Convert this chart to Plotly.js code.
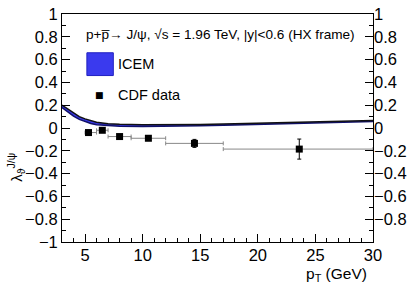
<!DOCTYPE html>
<html><head><meta charset="utf-8">
<script src="https://cdn.plot.ly/plotly-3.0.1.min.js"></script>
<style>html,body{margin:0;padding:0;background:#fff}#c{width:415px;height:284px}</style>
</head><body><div id="c"></div>
<script>
// ICEM band (pT in GeV, lambda_theta)
var icemPt    = [3, 3.5, 4, 4.5, 5, 5.5, 6, 7, 8, 10, 12, 15, 18, 20, 22, 25, 28, 30];
var icemUpper = [0.20, 0.165, 0.13, 0.10, 0.08, 0.062, 0.05, 0.038, 0.032, 0.028, 0.027, 0.030, 0.037, 0.042, 0.047, 0.053, 0.060, 0.066];
var icemLower = [0.18, 0.14, 0.105, 0.076, 0.054, 0.039, 0.029, 0.02, 0.016, 0.014, 0.014, 0.019, 0.027, 0.033, 0.038, 0.045, 0.052, 0.058];
// CDF data
var cdfPt   = [5.3, 6.5, 8.0, 10.5, 14.5, 23.6];
var cdfPtLo = [5, 6, 7, 9, 12, 17];
var cdfPtHi = [6, 7, 9, 12, 17, 30];
var cdfLam  = [-0.04, -0.02, -0.075, -0.09, -0.135, -0.185];
var cdfErr  = [0.018, 0.015, 0.015, 0.02, 0.035, 0.088];
var yTicks = [-1, -0.8, -0.6, -0.4, -0.2, 0, 0.2, 0.4, 0.6, 0.8, 1];
var yTickText = ['\u22121','\u22120.8','\u22120.6','\u22120.4','\u22120.2','0','0.2','0.4','0.6','0.8','1'];
var yTicksRight = [-0.8, -0.6, -0.4, -0.2, 0, 0.2, 0.4, 0.6, 0.8, 1];
var yTickTextRight = ['\u22120.8','\u22120.6','\u22120.4','\u22120.2','0','0.2','0.4','0.6','0.8','1'];

var traces = [
  {x: icemPt, y: icemLower, mode: 'lines', line: {color: '#10106a', width: 1.5}, hoverinfo: 'skip', showlegend: false},
  {x: icemPt, y: icemUpper, mode: 'lines', fill: 'tonexty', fillcolor: 'rgba(35,35,230,0.9)',
   line: {color: '#111', width: 1.5}, hoverinfo: 'skip', showlegend: false},
  {x: cdfPt, y: cdfLam, mode: 'markers', marker: {symbol: 'square', size: 7, color: '#000'},
   error_x: {type: 'data', symmetric: false,
     array: cdfPtHi.map(function(h, i){return h - cdfPt[i];}),
     arrayminus: cdfPtLo.map(function(l, i){return cdfPt[i] - l;}),
     color: '#888', thickness: 1, width: 2},
   error_y: {type: 'data', array: cdfErr, color: '#000', thickness: 1, width: 2},
   showlegend: false},
  {x: [3], y: [0], yaxis: 'y2', mode: 'markers', marker: {opacity: 0}, hoverinfo: 'skip', showlegend: false}
];

var font = {family: 'Liberation Sans, Arial, sans-serif', color: '#000'};
var layout = {
  width: 415, height: 284,
  margin: {l: 62, r: 42, t: 14, b: 42},
  paper_bgcolor: '#fff', plot_bgcolor: '#fff',
  font: {family: font.family, size: 16.5, color: '#000'},
  showlegend: false,
  xaxis: {range: [3, 30], showgrid: false, zeroline: false, showline: true, linecolor: '#000', linewidth: 1,
    mirror: true, ticks: 'inside', ticklen: 8, tickcolor: '#000', tickvals: [5, 10, 15, 20, 25, 30],
    minor: {dtick: 1, tick0: 0, ticks: 'inside', ticklen: 4, tickcolor: '#000'},
    ticklabelstandoff: -2,
    tickfont: {size: 16.5, family: font.family}},
  yaxis: {range: [-1, 1], showgrid: false, zeroline: false, showline: true, linecolor: '#000', linewidth: 1,
    mirror: true, ticks: 'inside', ticklen: 8, tickcolor: '#000', tickvals: yTicks, ticktext: yTickText,
    minor: {dtick: 0.1, tick0: 0, ticks: 'inside', ticklen: 4, tickcolor: '#000'},
    tickfont: {size: 16.5, family: font.family}},
  yaxis2: {range: [-1, 1], overlaying: 'y', side: 'right', showgrid: false, zeroline: false, showline: false,
    ticks: 'inside', ticklen: 8, tickcolor: '#000', tickvals: yTicksRight, ticktext: yTickTextRight,
    minor: {dtick: 0.1, tick0: 0, ticks: 'inside', ticklen: 4, tickcolor: '#000'},
    tickfont: {size: 16.5, family: font.family}},
  shapes: [
    {type: 'rect', xref: 'paper', yref: 'paper', x0: 0.08, x1: 0.165, y0: 0.73, y1: 0.83,
     fillcolor: '#3a3aee', line: {color: '#2020c0', width: 1}}
  ],
  annotations: [
    {xref: 'paper', yref: 'paper', x: 0.07, y: 0.91, xanchor: 'left', yanchor: 'middle', showarrow: false,
     text: 'p+p\u0305\u2192 J/\u03c8, \u221as = 1.96 TeV, |y|<0.6 (HX frame)', font: {size: 13.6, family: font.family}},
    {xref: 'paper', yref: 'paper', x: 0.175, y: 0.78, xanchor: 'left', yanchor: 'middle', showarrow: false,
     text: 'ICEM', font: {size: 14.5, family: font.family}},
    {xref: 'paper', yref: 'paper', x: 0.175, y: 0.645, xanchor: 'left', yanchor: 'middle', showarrow: false,
     text: 'CDF data', font: {size: 14.5, family: font.family}},
    {xref: 'paper', yref: 'paper', x: 0.119, y: 0.645, xanchor: 'center', yanchor: 'middle', showarrow: false,
     text: '\u25a0', font: {size: 9, family: 'DejaVu Sans'}},
    {xref: 'paper', yref: 'paper', x: 0.985, y: 0, yshift: -22, xanchor: 'right', yanchor: 'top', showarrow: false,
     borderpad: 0, text: 'p<sub>T</sub> (GeV)', font: {size: 15.5, family: font.family}},
    {xref: 'paper', yref: 'paper', x: -0.148, y: 0.33, xanchor: 'center', yanchor: 'middle', showarrow: false, textangle: -90,
     text: '\u03bb<sub>\u03d1</sub><sup>J/\u03c8</sup>', font: {size: 15, family: font.family}}
  ]
};
Plotly.newPlot('c', traces, layout, {staticPlot: true, displayModeBar: false});
</script></body></html>
